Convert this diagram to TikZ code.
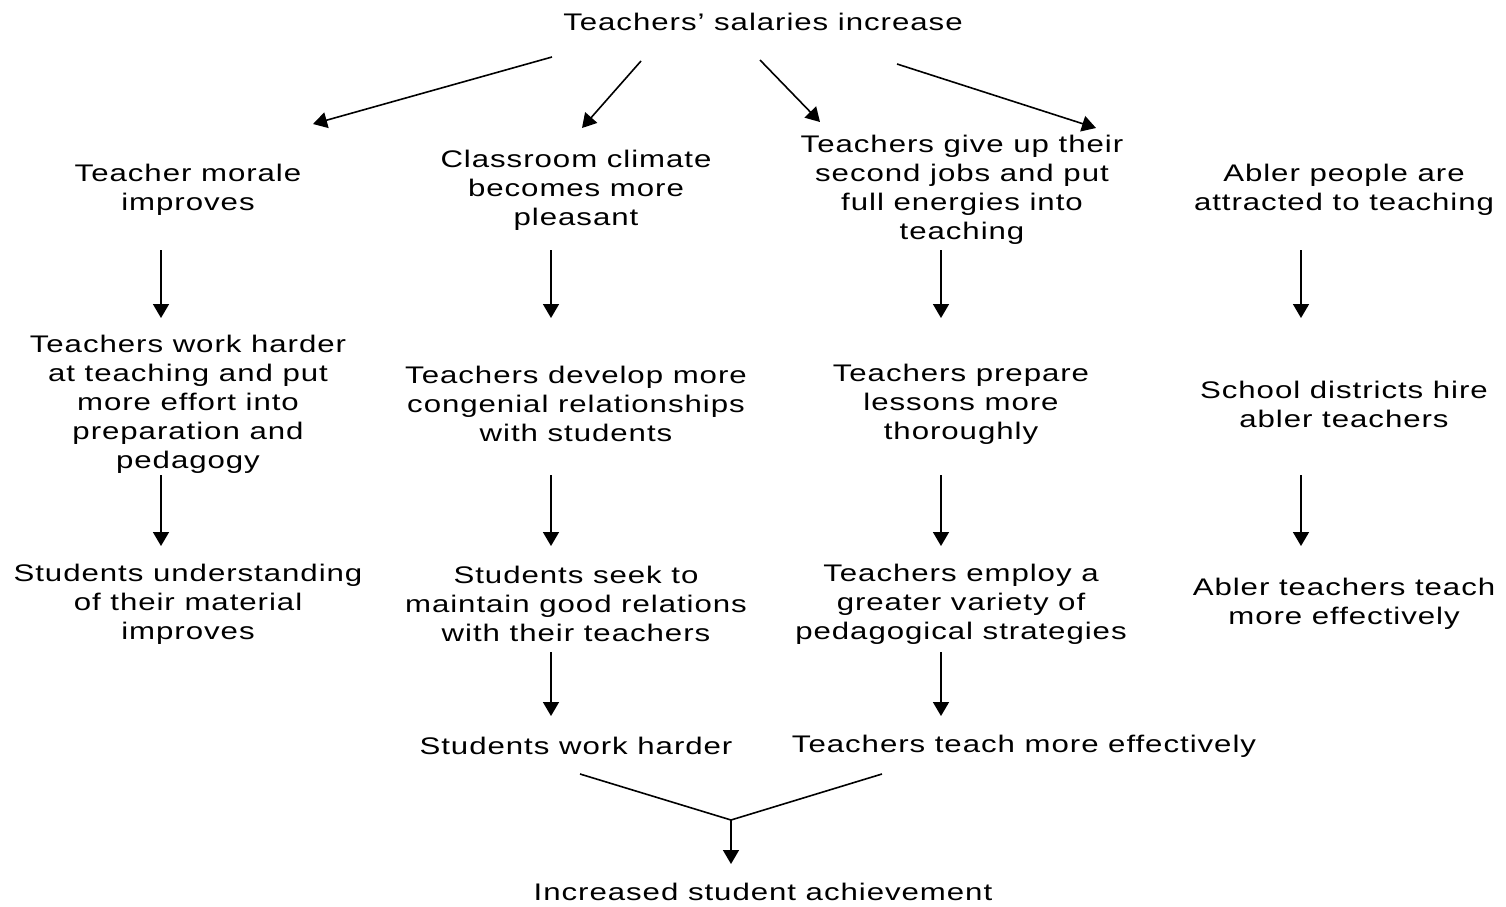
\documentclass[tikz,border=0pt]{standalone}
\usepackage{fontspec}
\setmainfont[FakeStretch=1.3,LetterSpace=4]{Liberation Sans}
\usetikzlibrary{positioning,arrows.meta}

\begin{document}
\begin{tikzpicture}[x=0.5pt,y=-0.5pt,font=\fontsize{12}{14.5}\selectfont,
  every node/.style={align=center,inner sep=0pt},
  arr/.style={-{Triangle[length=7pt,width=8pt]},line width=0.8pt}]
  \useasboundingbox (0,0) rectangle (1506,906);
  \node (top) at (763,22) {Teachers’ salaries increase};
  % first row
  \node (morale) at (188,190) {Teacher morale\\improves};
  \node (climate) at (576,190) {Classroom climate\\becomes more\\pleasant};
  \node (jobs) at (962,190) {Teachers give up their\\second jobs and put\\full energies into\\teaching};
  \node (abler) at (1344,190) {Abler people are\\attracted to teaching};
  % second row
  \node (harder) at (188,404) {Teachers work harder\\at teaching and put\\more effort into\\preparation and\\pedagogy};
  \node (congenial) at (576,404) {Teachers develop more\\congenial relationships\\with students};
  \node (prepare) at (961,404) {Teachers prepare\\lessons more\\thoroughly};
  \node (hire) at (1344,404) {School districts hire\\abler teachers};
  % third row
  \node (underst) at (188,604) {Students understanding\\of their material\\improves};
  \node (relations) at (576,604) {Students seek to\\maintain good relations\\with their teachers};
  \node (variety) at (961,604) {Teachers employ a\\greater variety of\\pedagogical strategies};
  \node (effect) at (1344,604) {Abler teachers teach\\more effectively};
  % fourth row
  \node (stwork) at (576,746) {Students work harder};
  \node (tteach) at (1024,746) {Teachers teach more effectively};
  \node (achieve) at (763,892) {Increased student achievement};

  % fan out from the top
  \foreach \i/\x/\y/\X/\Y in {1/552/57/313/124, 2/641/61/582/128,
      3/760/60/820/122, 4/897/64/1096/128} {
    \coordinate (f\i) at (\x,\y);
    \coordinate (g\i) at (\X,\Y);
    \draw[arr] (f\i) -- (g\i);
  }
  % down the columns
  \foreach \i/\x in {1/161,2/551,3/941,4/1301} {
    \coordinate (u\i) at (\x,250); \coordinate (v\i) at (\x,318);
    \coordinate (p\i) at (\x,475); \coordinate (q\i) at (\x,546);
    \draw[arr] (u\i) -- (v\i);
    \draw[arr] (p\i) -- (q\i);
  }
  \foreach \i/\x in {2/551,3/941} {
    \coordinate (m\i) at (\x,652); \coordinate (n\i) at (\x,716);
    \draw[arr] (m\i) -- (n\i);
  }
  % merge
  \coordinate (left) at (580,774);
  \coordinate (right) at (882,774);
  \coordinate (join) at (731,820);
  \coordinate (end) at (731,864);
  \draw[line width=0.8pt] (left) -- (join) -- (right);
  \draw[arr] (join) -- (end);
\end{tikzpicture}
\end{document}
